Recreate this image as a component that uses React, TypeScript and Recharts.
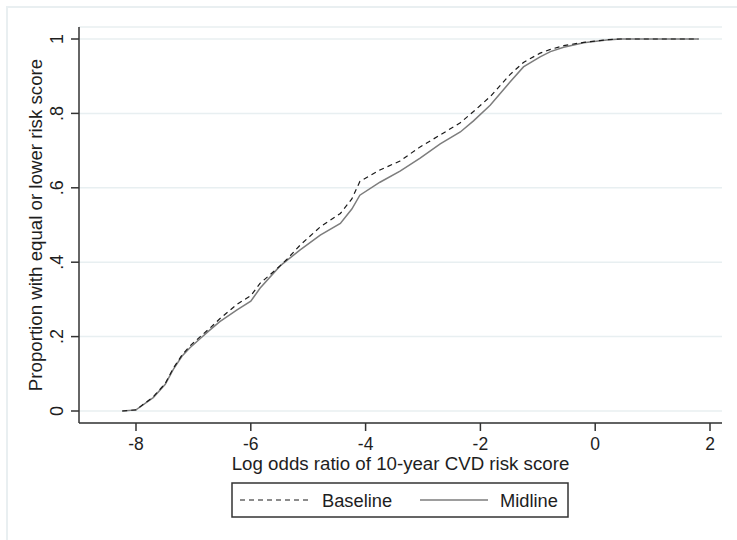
import { LineChart, Line, XAxis, YAxis, CartesianGrid } from 'recharts';

// log odds ratio values where the cumulative curves were read
const logOdds = [
  -8.24, -8.0, -7.7, -7.49, -7.35, -7.2, -7.06, -6.88, -6.71, -6.54, -6.24, -6.0, -5.84,
  -5.49, -5.37, -5.14, -4.79, -4.44, -4.24, -4.1, -3.75, -3.4, -3.05, -2.7, -2.35, -2.12,
  -1.83, -1.48, -1.25, -0.96, -0.78, -0.55, -0.2, 0.2, 0.44, 1.8,
];

const baseline = [
  0, 0.003, 0.038, 0.074, 0.115, 0.15, 0.175, 0.2, 0.223, 0.248, 0.287, 0.31, 0.343,
  0.39, 0.408, 0.446, 0.495, 0.531, 0.57, 0.617, 0.648, 0.672, 0.71, 0.742, 0.775, 0.805,
  0.845, 0.905, 0.937, 0.962, 0.972, 0.982, 0.991, 0.998, 1, 1,
];

const midline = [
  0, 0.003, 0.036, 0.072, 0.112, 0.147, 0.17, 0.195, 0.218, 0.24, 0.272, 0.295, 0.33,
  0.39, 0.405, 0.433, 0.473, 0.504, 0.543, 0.58, 0.615, 0.645, 0.68, 0.718, 0.75, 0.78,
  0.822, 0.885, 0.925, 0.952, 0.966, 0.978, 0.99, 0.997, 1, 1,
];

const xTicks = [-8, -6, -4, -2, 0, 2];
const yTicks = [0, 0.2, 0.4, 0.6, 0.8, 1];
const yTickLabels = ['0', '.2', '.4', '.6', '.8', '1'];

const data = logOdds.map((x, i) => ({ x, baseline: baseline[i], midline: midline[i] }));

const FONT = '"Liberation Sans", Arial, sans-serif';
const TEXT = '#1e1e1e';
const AXIS = '#333333';

const XTick = (props: any) => {
  const { x, y, payload } = props;
  return (
    <text x={x} y={y + 17} textAnchor="middle" fontFamily={FONT} fontSize={17.5} fill={TEXT}>
      {payload.value}
    </text>
  );
};

const YTick = (props: any) => {
  const { x, y, payload } = props;
  const idx = yTicks.findIndex((t) => Math.abs(t - payload.value) < 1e-6);
  return (
    <text
      transform={`translate(${x - 6},${y}) rotate(-90)`}
      textAnchor="middle"
      fontFamily={FONT}
      fontSize={18}
      fill={TEXT}
    >
      {idx >= 0 ? yTickLabels[idx] : payload.value}
    </text>
  );
};

const renderYLabel = (props: any) => {
  const vb = props.viewBox;
  const cy = vb.y + vb.height / 2;
  return (
    <text
      transform={`translate(42,${cy}) rotate(-90)`}
      textAnchor="middle"
      fontFamily={FONT}
      fontSize={18.7}
      fill={TEXT}
    >
      Proportion with equal or lower risk score
    </text>
  );
};

const renderXLabel = (props: any) => {
  const vb = props.viewBox;
  return (
    <text x={vb.x + vb.width / 2} y={470} textAnchor="middle" fontFamily={FONT} fontSize={18.7} fill={TEXT}>
      Log odds ratio of 10-year CVD risk score
    </text>
  );
};

export default function App() {
  return (
    <div style={{ position: 'absolute', left: 0, top: 0, width: 737, height: 540, background: '#fff', overflow: 'hidden' }}>
      <div
        style={{
          position: 'absolute',
          left: 6,
          top: 6,
          width: 760,
          height: 560,
          borderTop: '2px solid #e9eff1',
          borderLeft: '2px solid #e9eff1',
        }}
      />
      <div style={{ position: 'absolute', left: 0, top: 0 }}>
        <LineChart width={737} height={540} data={data} margin={{ top: 27, right: 15, bottom: 87, left: 29 }}>
          <CartesianGrid vertical={false} stroke="#e8eff1" strokeWidth={1.5} />
          <XAxis
            dataKey="x"
            type="number"
            domain={[-8.993, 2.209]}
            ticks={xTicks}
            allowDataOverflow
            height={30}
            tickSize={8}
            tickMargin={2}
            stroke={AXIS}
            strokeWidth={1.5}
            tick={<XTick />}
            label={{ content: renderXLabel }}
          />
          <YAxis
            type="number"
            domain={[-0.03226, 1.03226]}
            ticks={yTicks}
            allowDataOverflow
            width={50}
            tickSize={8}
            tickMargin={2}
            stroke={AXIS}
            strokeWidth={1.5}
            tick={<YTick />}
            label={{ content: renderYLabel }}
          />
          <Line
            type="linear"
            dataKey="midline"
            stroke="#7d7d7d"
            strokeWidth={1.5}
            dot={false}
            isAnimationActive={false}
          />
          <Line
            type="linear"
            dataKey="baseline"
            stroke="#1a1a1a"
            strokeWidth={1.2}
            strokeDasharray="5 4"
            dot={false}
            isAnimationActive={false}
          />
        </LineChart>
      </div>
      <svg style={{ position: 'absolute', left: 0, top: 0 }} width={737} height={540}>
        <rect x={232} y={483} width={336} height={34} fill="#fff" stroke={AXIS} strokeWidth={1.5} />
        <line x1={240} y1={500} x2={309} y2={500} stroke="#1a1a1a" strokeWidth={1.2} strokeDasharray="5 4" />
        <text x={322} y={507} fontFamily={FONT} fontSize={18.3} fill={TEXT}>Baseline</text>
        <line x1={420} y1={500} x2={488} y2={500} stroke="#7d7d7d" strokeWidth={1.5} />
        <text x={500} y={507} fontFamily={FONT} fontSize={18.3} fill={TEXT}>Midline</text>
      </svg>
    </div>
  );
}
